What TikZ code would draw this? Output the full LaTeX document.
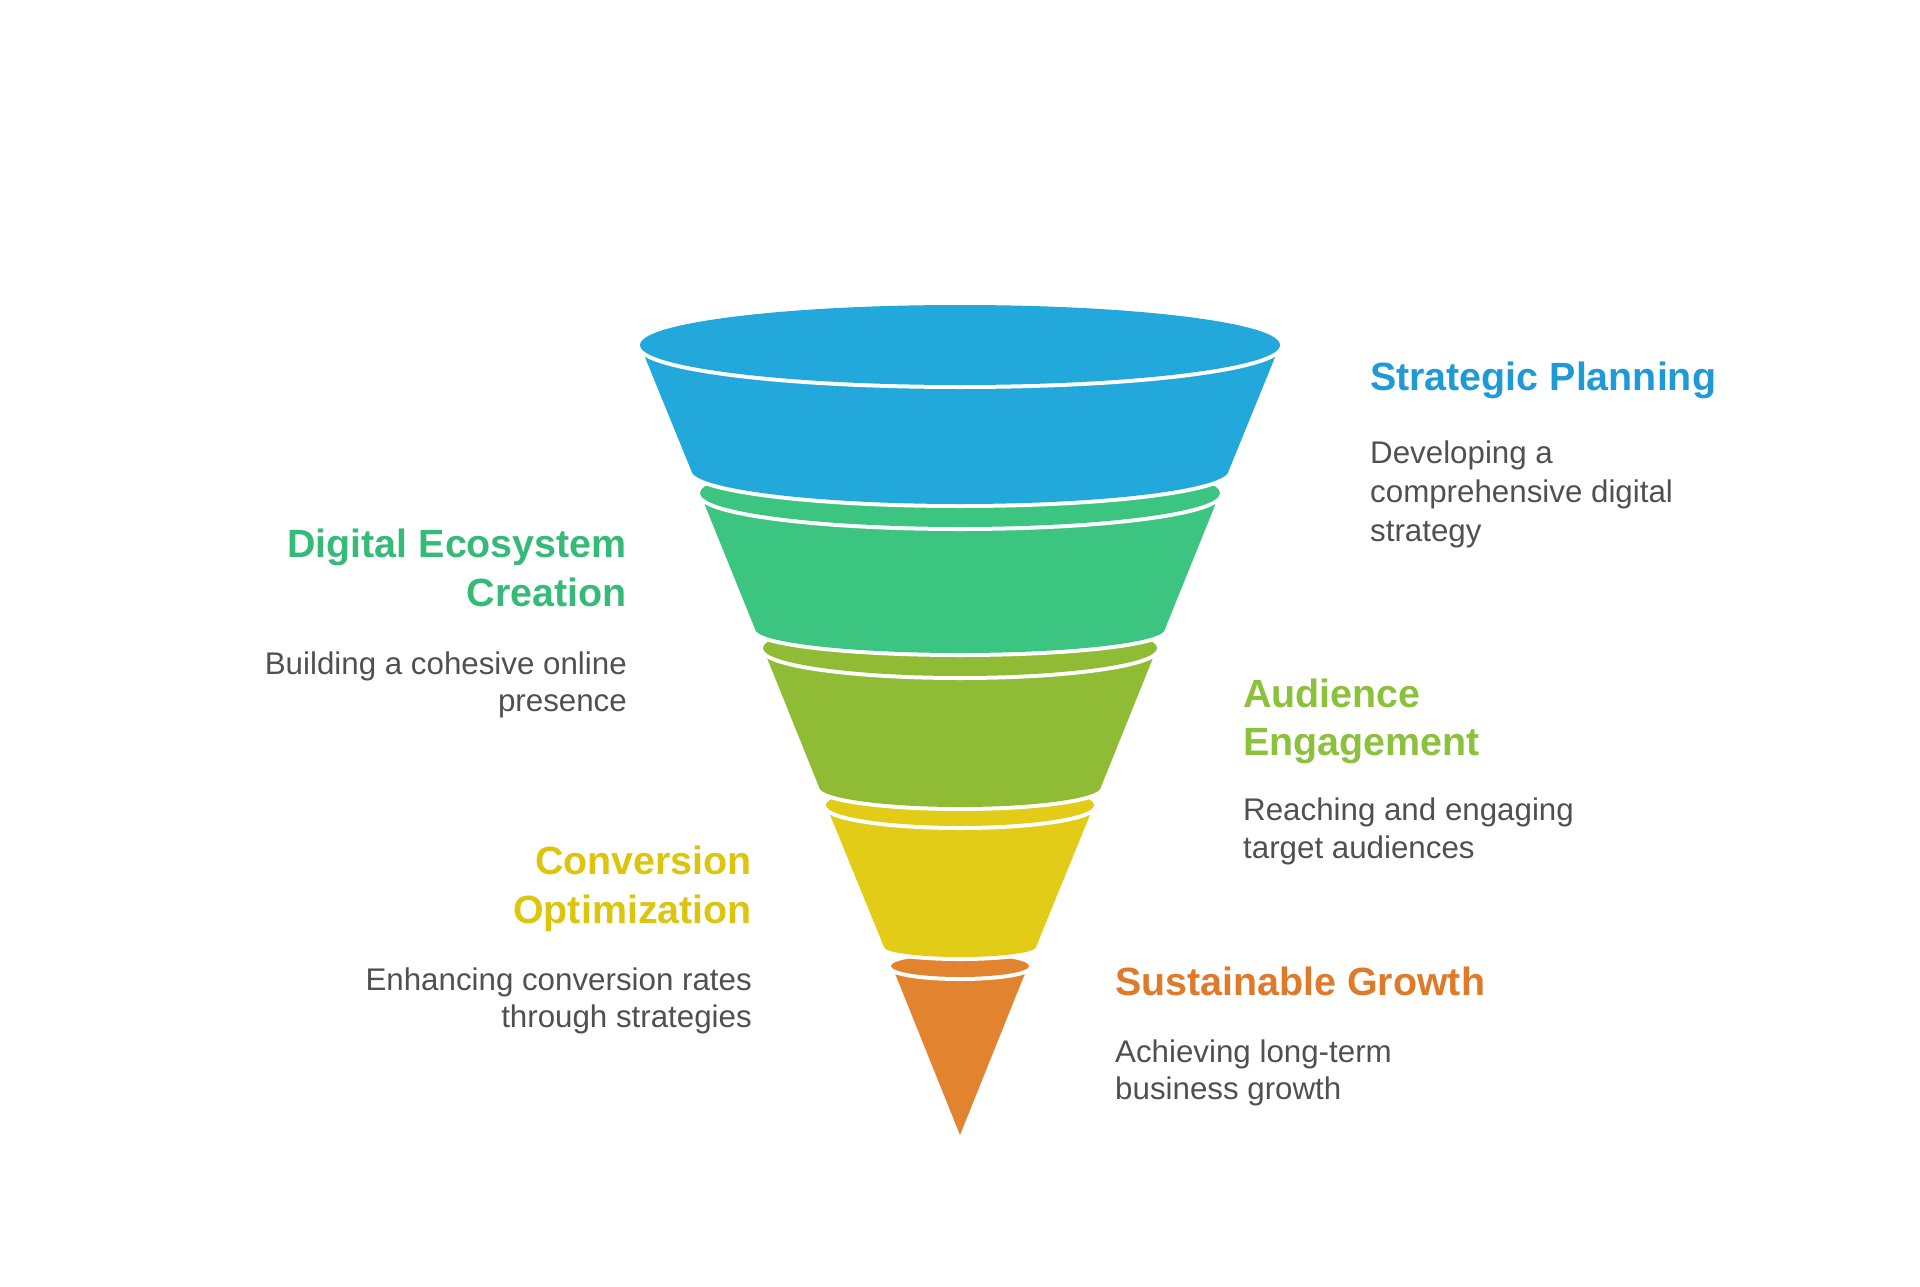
\documentclass[tikz,border=0pt]{standalone}
\usepackage{fontspec}
\setmainfont{Liberation Sans}
\definecolor{cblue}{HTML}{22A8DB}
\definecolor{cgreen}{HTML}{3CC580}
\definecolor{colive}{HTML}{90BC35}
\definecolor{cyellow}{HTML}{E3CC17}
\definecolor{corange}{HTML}{E2832F}
\definecolor{hblue}{HTML}{1F9AD6}
\definecolor{hgreen}{HTML}{36BA78}
\definecolor{holive}{HTML}{8CC13C}
\definecolor{hyellow}{HTML}{DCC50C}
\definecolor{horange}{HTML}{DE7A2A}
\definecolor{descgray}{HTML}{505050}
\begin{document}
\begin{tikzpicture}[x=1pt,y=1pt,
  seg/.style={fill=#1, preaction={draw=white, line width=8pt, line join=round}},
  head/.style={inner sep=0pt, font=\fontsize{39.4}{47}\selectfont\bfseries},
  desc/.style={inner sep=0pt, font=\fontsize{31.3}{38}\selectfont, text=descgray}]
\useasboundingbox (0,0) rectangle (1920,-1287);

% orange
\path[seg=corange] (892,-966) -- (960,-1135) -- (1028,-966) -- cycle;
\path[seg=corange] (960,-966) ellipse [x radius=69, y radius=11];
% yellow
\path[seg=cyellow] (826,-805) -- (884,-947) arc[start angle=180, end angle=360, x radius=76, y radius=10] -- (1094,-805) -- cycle;
\path[seg=cyellow] (960,-805) ellipse [x radius=134, y radius=21];
% olive
\path[seg=colive] (763,-648) -- (819,-787) arc[start angle=180, end angle=360, x radius=141, y radius=20] -- (1157,-648) -- cycle;
\path[seg=colive] (960,-648) ellipse [x radius=197, y radius=28];
% green
\path[seg=cgreen] (700,-493) -- (755,-629) arc[start angle=180, end angle=360, x radius=205, y radius=24] -- (1220,-493) -- cycle;
\path[seg=cgreen] (960,-493) ellipse [x radius=260, y radius=34];
% blue
\path[seg=cblue] (640,-345) -- (691,-470) arc[start angle=180, end angle=360, x radius=269, y radius=34] -- (1280,-345) -- cycle;
\path[seg=cblue] (960,-345) ellipse [x radius=320, y radius=40];

% Strategic Planning
\node[head, text=hblue, anchor=base west] (sph) at (1370,-390) {Strategic Planning};
\node[desc, anchor=base west] (spd1) at (1370,-463) {Developing a};
\node[desc, anchor=base west] (spd2) at (1370,-502) {comprehensive digital};
\node[desc, anchor=base west] (spd3) at (1370,-541) {strategy};

% Digital Ecosystem Creation
\node[head, text=hgreen, anchor=base east] (deh1) at (627,-557) {Digital Ecosystem};
\node[head, text=hgreen, anchor=base east] (deh2) at (627,-606) {Creation};
\node[desc, anchor=base east] (ded1) at (627,-674) {Building a cohesive online};
\node[desc, anchor=base east] (ded2) at (627,-711) {presence};

% Audience Engagement
\node[head, text=holive, anchor=base west] (aeh1) at (1243,-707) {Audience};
\node[head, text=holive, anchor=base west] (aeh2) at (1243,-755) {Engagement};
\node[desc, anchor=base west] (aed1) at (1243,-820) {Reaching and engaging};
\node[desc, anchor=base west] (aed2) at (1243,-858) {target audiences};

% Conversion Optimization
\node[head, text=hyellow, anchor=base east] (coh1) at (752,-874) {Conversion};
\node[head, text=hyellow, anchor=base east] (coh2) at (752,-923) {Optimization};
\node[desc, anchor=base east] (cod1) at (752,-990) {Enhancing conversion rates};
\node[desc, anchor=base east] (cod2) at (752,-1027) {through strategies};

% Sustainable Growth
\node[head, text=horange, anchor=base west] (sgh) at (1115,-995) {Sustainable Growth};
\node[desc, anchor=base west] (sgd1) at (1115,-1062) {Achieving long-term};
\node[desc, anchor=base west] (sgd2) at (1115,-1099) {business growth};
\end{tikzpicture}
\end{document}
